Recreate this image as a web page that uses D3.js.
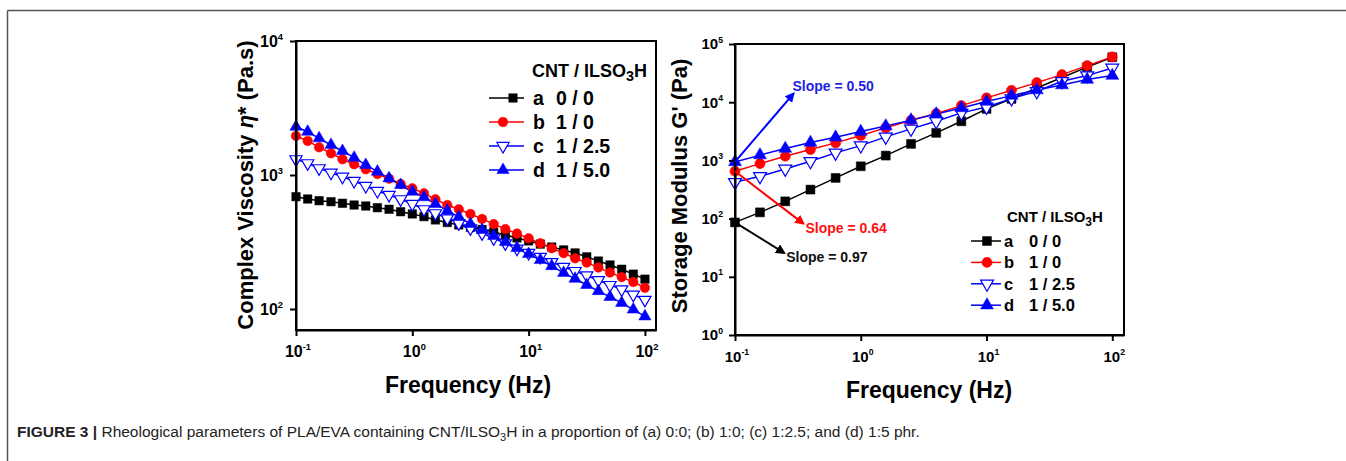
<!DOCTYPE html>
<html>
<head>
<meta charset="utf-8">
<script src="https://cdn.jsdelivr.net/npm/d3@7"></script>
<style>
  body { margin: 0; background: #fff; }
  text { font-family: Arial, "Liberation Sans", sans-serif; }
</style>
</head>
<body>
<div id="chart-container"></div>
<script>
// two rheology panels side by side, log-log, plus the figure caption
const svgWidth = 1346;
const svgHeight = 461;

// frequency sweeps (Hz)
const freqViscosity = [0.1, 0.126, 0.158, 0.2, 0.251, 0.316, 0.398, 0.501, 0.631, 0.794,
    1, 1.26, 1.58, 2, 2.51, 3.16, 3.98, 5.01, 6.31, 7.94,
    10, 12.6, 15.8, 20, 25.1, 31.6, 39.8, 50.1, 63.1, 79.4, 100];
const freqModulus = [0.1, 0.158, 0.251, 0.398, 0.631, 1, 1.58, 2.51, 3.98, 6.31, 10, 15.8, 25.1, 39.8, 63.1, 100];

// complex viscosity (Pa.s)
const viscA = [689, 662, 643, 632, 615, 597, 587, 570, 555, 532, 512, 489, 462, 442, 424, 406, 392, 376, 357, 339, 322, 305, 290, 276, 262, 245, 228, 213, 198, 182, 167];
const viscB = [1955, 1795, 1610, 1452, 1310, 1202, 1103, 1017, 938, 857, 796, 730, 659, 597, 555, 512, 470, 430, 395, 365, 337, 309, 284, 261, 239, 222, 204, 187, 173, 159, 144];
const viscC = [1310, 1223, 1122, 1040, 971, 902, 828, 760, 710, 659, 608, 555, 518, 475, 436, 400, 367, 337, 309, 282, 262, 245, 224, 206, 192, 178, 164, 151, 140, 128, 117];
const viscD = [2291, 2104, 1878, 1675, 1511, 1346, 1188, 1059, 944, 841, 750, 682, 608, 542, 487, 431, 389, 351, 316, 285, 257, 232, 209, 186, 168, 151, 136, 123, 111, 99, 88];

// storage modulus G' (Pa)
const modA = [86, 128, 198, 315, 500, 792, 1209, 1921, 2972, 4700, 7680, 11400, 17500, 26500, 40100, 59300];
const modB = [650, 881, 1176, 1534, 2000, 2670, 3620, 4890, 6370, 8740, 11860, 16000, 21700, 29800, 42500, 60000];
const modC = [421, 533, 714, 965, 1346, 1796, 2533, 3478, 4697, 6550, 8300, 11530, 15400, 22850, 28650, 38800];
const modD = [942, 1233, 1595, 2024, 2496, 3125, 3885, 4920, 6250, 7930, 10240, 12980, 16140, 19680, 24450, 28650];

const seriesLetters = ["a", "b", "c", "d"];
const seriesRatios = ["0 / 0", "1 / 0", "1 / 2.5", "1 / 5.0"];
const seriesColors = ["#000000", "#ff0000", "#0000ff", "#0000ff"];

// slope annotations: label, colour, end point (Hz, Pa); arrows start at first point of a series
const slopeLabels = ["Slope = 0.50", "Slope = 0.64", "Slope = 0.97"];
const slopeSeries = [3, 1, 0];
const slopeEnds = [[0.292, 14060], [0.35, 82], [0.246, 25.8]];

const xTicks = [0.1, 1, 10, 100];
const viscTicks = [100, 1000, 10000];
const modTicks = [1, 10, 100, 1000, 10000, 100000];

const svg = d3.select("#chart-container")
    .append("svg")
    .attr("width", svgWidth)
    .attr("height", svgHeight);

// frame of the figure (left and top edges only are visible)
svg.append("line").attr("x1", 7.5).attr("y1", 10.5).attr("x2", svgWidth).attr("y2", 10.5)
    .attr("stroke", "#555").attr("stroke-width", 1.5);
svg.append("line").attr("x1", 7.5).attr("y1", 10.5).attr("x2", 7.5).attr("y2", svgHeight)
    .attr("stroke", "#555").attr("stroke-width", 1.5);

const defs = svg.append("defs");
["#0000ff", "#ff0000", "#000000"].forEach((c, i) => {
    defs.append("marker")
        .attr("id", "arrow" + i)
        .attr("viewBox", "0 0 10 10")
        .attr("refX", 8).attr("refY", 5)
        .attr("markerWidth", 5).attr("markerHeight", 5)
        .attr("orient", "auto")
        .append("path")
        .attr("d", "M0,0 L10,5 L0,10 Z")
        .attr("fill", c);
});

function powLabel(sel, v, size) {
    const e = Math.round(Math.log10(v));
    sel.append("tspan").text("10");
    sel.append("tspan").text(e).attr("font-size", size * 0.58).attr("dy", -size * 0.45);
}

function symbolFor(i, size) {
    if (i == 0) return d3.symbol(d3.symbolSquare, size)();
    if (i == 1) return d3.symbol(d3.symbolCircle, size)();
    return d3.symbol(d3.symbolTriangle, size * 0.9)();
}

function drawMarker(g, i, x, y, size) {
    g.append("path")
        .attr("d", symbolFor(i, size))
        .attr("transform", `translate(${x},${y})` + (i == 2 ? " rotate(180)" : ""))
        .attr("fill", i == 2 ? "#fff" : seriesColors[i])
        .attr("stroke", seriesColors[i])
        .attr("stroke-width", i == 2 ? 1.2 : 0.5);
}

function drawPanel(p) {
    const x = d3.scaleLog().domain(p.xDomain).range(p.xRange);
    const y = d3.scaleLog().domain(p.yDomain).range(p.yRange);
    const g = svg.append("g");

    // series lines and markers
    p.series.forEach((vals, i) => {
        const pts = p.freq.map((f, k) => [f, vals[k]]);
        g.append("path")
            .datum(pts)
            .attr("fill", "none")
            .attr("stroke", seriesColors[i])
            .attr("stroke-width", 1.5)
            .attr("d", d3.line().x(d => x(d[0])).y(d => y(d[1])));
    });
    p.series.forEach((vals, i) => {
        p.freq.forEach((f, k) => drawMarker(g, i, x(f), y(vals[k]), p.markerSize));
    });

    // box + axes
    g.append("rect")
        .attr("x", p.xRange[0]).attr("y", p.yRange[1])
        .attr("width", p.xRange[1] - p.xRange[0])
        .attr("height", p.yRange[0] - p.yRange[1])
        .attr("fill", "none").attr("stroke", "#000").attr("stroke-width", 2);

    const xAxis = g.append("g")
        .attr("transform", `translate(0,${p.yRange[0]})`)
        .call(d3.axisBottom(x).tickValues(xTicks).tickFormat("").tickSize(6).tickSizeOuter(0));
    const yAxis = g.append("g")
        .attr("transform", `translate(${p.xRange[0]},0)`)
        .call(d3.axisLeft(y).tickValues(p.yTicks).tickFormat("").tickSize(6).tickSizeOuter(0));
    [xAxis, yAxis].forEach(a => {
        a.select(".domain").attr("stroke-width", 2);
        a.selectAll(".tick line").attr("stroke-width", 2);
    });

    xTicks.forEach(t => {
        const tx = g.append("text")
            .attr("x", x(t) + 2).attr("y", p.yRange[0] + 27)
            .attr("text-anchor", "middle")
            .attr("font-size", p.tickFont).attr("font-weight", "bold");
        powLabel(tx, t, p.tickFont);
    });
    p.yTicks.forEach(t => {
        const ty = g.append("text")
            .attr("x", p.xRange[0] - p.yLabelGap).attr("y", y(t) + p.tickFont * 0.36)
            .attr("text-anchor", "end")
            .attr("font-size", p.tickFont).attr("font-weight", "bold");
        powLabel(ty, t, p.tickFont);
    });

    g.append("text")
        .text("Frequency (Hz)")
        .attr("x", p.xTitleX)
        .attr("y", p.yRange[0] + 63)
        .attr("text-anchor", "middle")
        .attr("font-size", 23).attr("font-weight", "bold");

    const yt = g.append("text")
        .attr("transform", `translate(${p.yTitleX},${p.yTitleY}) rotate(-90)`)
        .attr("text-anchor", "middle")
        .attr("font-size", 22).attr("font-weight", "bold");
    p.yTitle(yt);

    // legend
    const lg = p.legend;
    const head = g.append("text")
        .attr("x", lg.headX).attr("y", lg.headY)
        .attr("font-size", lg.headFont).attr("font-weight", "bold");
    head.append("tspan").text("CNT / ILSO");
    head.append("tspan").text("3").attr("dy", 4).attr("font-size", lg.headFont * 0.8);
    head.append("tspan").text("H").attr("dy", -4);

    seriesLetters.forEach((s, i) => {
        const ry = lg.rowY + i * lg.rowGap;
        g.append("line")
            .attr("x1", lg.lineX[0]).attr("x2", lg.lineX[1])
            .attr("y1", ry).attr("y2", ry)
            .attr("stroke", seriesColors[i]).attr("stroke-width", 1.5);
        drawMarker(g, i, lg.markX[i], ry, p.markerSize);
        g.append("text")
            .text(s)
            .attr("x", lg.letterX).attr("y", ry + lg.font * 0.36)
            .attr("font-size", lg.font).attr("font-weight", "bold");
        g.append("text")
            .text(seriesRatios[i])
            .attr("x", lg.ratioX).attr("y", ry + lg.font * 0.36)
            .attr("font-size", lg.font).attr("font-weight", "bold");
    });

    return { x, y, g };
}

drawPanel({
    freq: freqViscosity,
    series: [viscA, viscB, viscC, viscD],
    xDomain: [0.1, 124.5], xRange: [296, 656],
    yDomain: [69.7, 10000], yRange: [330, 41],
    yTicks: viscTicks,
    tickFont: 16,
    yLabelGap: 13,
    markerSize: 72,
    xTitleX: 468,
    yTitleX: 253, yTitleY: 185,
    yTitle: t => {
        t.append("tspan").text("Complex Viscosity ");
        t.append("tspan").text("η").attr("font-style", "italic");
        t.append("tspan").text("* (Pa.s)");
    },
    legend: {
        headX: 532, headY: 77, headFont: 18, font: 19.5,
        rowY: 98, rowGap: 24,
        lineX: [489, 524], markX: [513, 503, 503, 503],
        letterX: 533, ratioX: 556
    }
});

const right = drawPanel({
    freq: freqModulus,
    series: [modA, modB, modC, modD],
    xDomain: [0.1, 123.9], xRange: [735, 1124],
    yDomain: [1, 100000], yRange: [335, 44],
    yTicks: modTicks,
    tickFont: 15,
    yLabelGap: 12,
    markerSize: 80,
    xTitleX: 929,
    yTitleX: 687, yTitleY: 186,
    yTitle: t => t.text("Storage Modulus G' (Pa)"),
    legend: {
        headX: 1007, headY: 222, headFont: 15, font: 16.5,
        rowY: 241, rowGap: 21.4,
        lineX: [971, 1001], markX: [987, 987, 987, 987],
        letterX: 1004, ratioX: 1029
    }
});

// slope arrows on the right panel
const arrowColors = ["#0000ff", "#ff0000", "#000000"];
const textColors = ["#1f1fe6", "#ff1010", "#111"];
const slopeSeriesData = [modA, modB, modC, modD];
slopeLabels.forEach((lab, i) => {
    const s = slopeSeries[i];
    const x0 = right.x(freqModulus[0]), y0 = right.y(slopeSeriesData[s][0]);
    const x1 = right.x(slopeEnds[i][0]), y1 = right.y(slopeEnds[i][1]);
    right.g.append("line")
        .attr("x1", x0).attr("y1", y0).attr("x2", x1).attr("y2", y1)
        .attr("stroke", arrowColors[i]).attr("stroke-width", 2)
        .attr("marker-end", `url(#arrow${i})`);
    right.g.append("text")
        .text(lab)
        .attr("x", x1 + (i == 0 ? -1 : 2))
        .attr("y", y1 + (i == 0 ? -3 : 9))
        .attr("fill", textColors[i])
        .attr("font-size", 14)
        .attr("font-weight", "bold");
});

// caption
const cap = svg.append("text")
    .attr("x", 17).attr("y", 437)
    .attr("font-size", 15.5)
    .attr("fill", "#222")
    .attr("font-family", "'Liberation Sans Narrow', 'Liberation Sans', Arial, sans-serif");
cap.append("tspan").text("FIGURE 3 | ").attr("font-weight", "bold");
cap.append("tspan").text("Rheological parameters of PLA/EVA containing CNT/ILSO");
cap.append("tspan").text("3").attr("font-size", 11).attr("dy", 4);
cap.append("tspan").text("H in a proportion of (a) 0:0; (b) 1:0; (c) 1:2.5; and (d) 1:5 phr.").attr("dy", -4);
</script>
</body>
</html>
